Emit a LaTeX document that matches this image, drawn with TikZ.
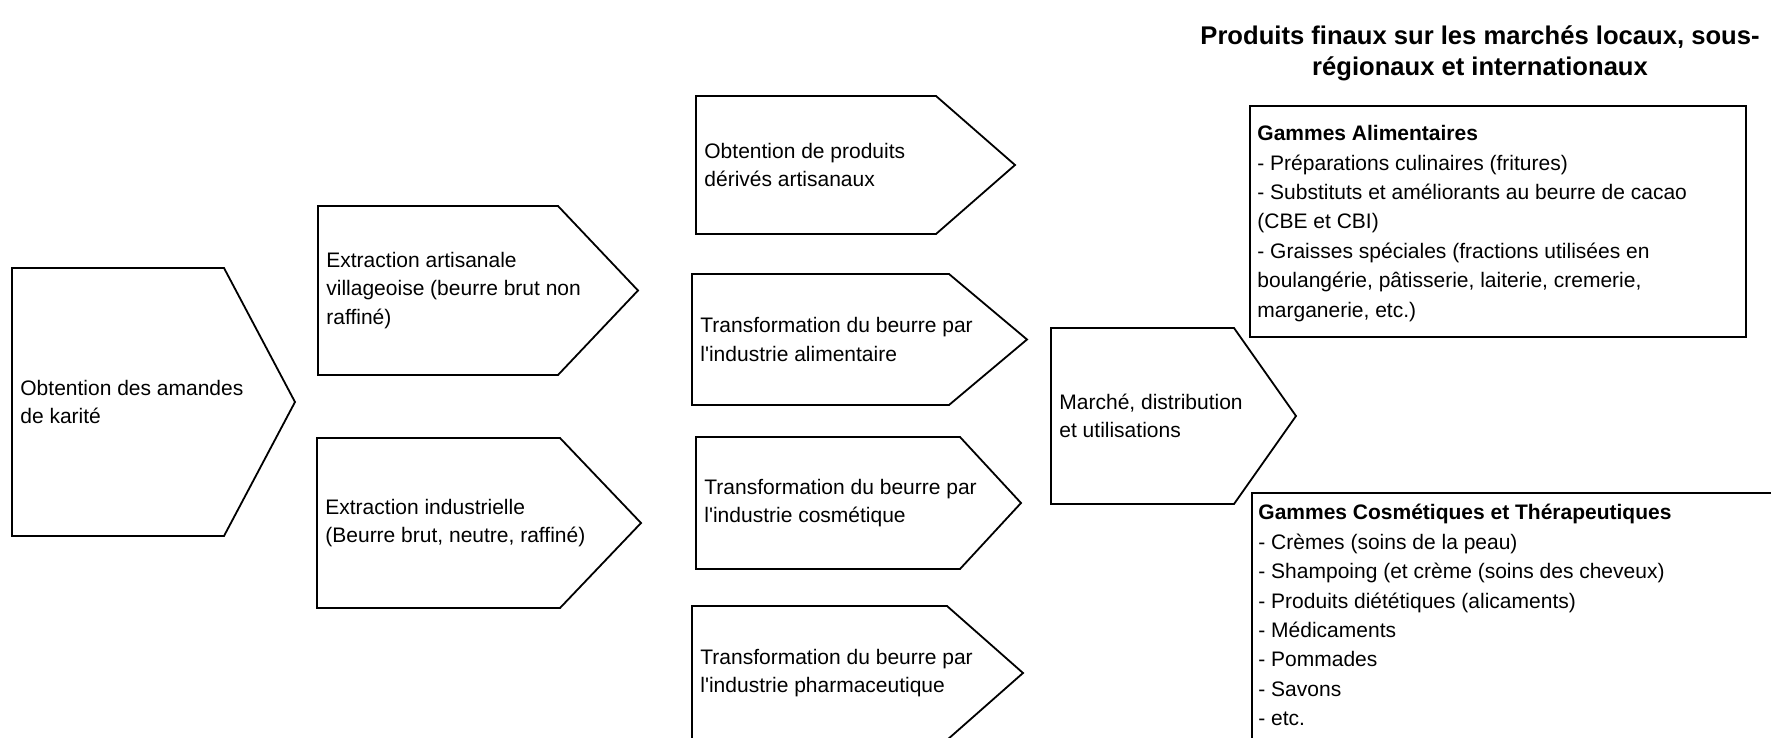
\documentclass[tikz,border=0pt]{standalone}
\usepackage{fontspec}
\setmainfont{Liberation Sans}
\newcommand\karitepent[7]{%
  \draw[outline] (#2,#3) -- (#5,#3) -- (#6,{(#3+#4)/2}) -- (#5,#4) -- (#2,#4) -- cycle;
  \node[penttext] (#1) at ({#2+8},{(#3+#4)/2}) {#7};}
\begin{document}
\begin{tikzpicture}[x=0.5pt,y=-0.5pt,
  outline/.style={draw=black, line width=0.9pt, line join=miter},
  penttext/.style={anchor=west, inner sep=0pt, align=left, font=\fontsize{10.5}{14.3}\selectfont},
  listtext/.style={anchor=north west, inner sep=0pt, align=left, font=\fontsize{10.5}{14.7}\selectfont},
  titletext/.style={anchor=north, inner sep=0pt, align=center, font=\bfseries\fontsize{12.8}{15.5}\selectfont}]
\useasboundingbox (0,0) rectangle (1771,738);
\clip (0,0) rectangle (1771,738);
\fill[white] (0,0) rectangle (1771,738);

\karitepent{amandes}{12}{268}{536}{224}{295}{Obtention des amandes\\de karité}
\karitepent{artisanale}{318}{206}{375}{558}{638}{Extraction artisanale\\villageoise (beurre brut non\\raffiné)}
\karitepent{industrielle}{317}{438}{608}{560}{641}{Extraction industrielle\\(Beurre brut, neutre, raffiné)}
\karitepent{derives}{696}{96}{234}{936}{1015}{Obtention de produits\\dérivés artisanaux}
\karitepent{alimentaire}{692}{274}{405}{949}{1027}{Transformation du beurre par\\l\textquotesingle industrie alimentaire}
\karitepent{cosmetique}{696}{437}{569}{960}{1021}{Transformation du beurre par\\l\textquotesingle industrie cosmétique}
\karitepent{pharma}{692}{606}{740}{947}{1023}{Transformation du beurre par\\l\textquotesingle industrie pharmaceutique}
\karitepent{marche}{1051}{328}{504}{1234}{1296}{Marché, distribution\\et utilisations}

\node[titletext] (titre) at (1480,25) {Produits finaux sur les marchés locaux, sous-\\régionaux et internationaux};

\draw[outline] (1250,106) rectangle (1746,337);
\node[listtext] (galim) at (1257,125) {\textbf{Gammes Alimentaires}\\
- Préparations culinaires (fritures)\\
- Substituts et améliorants au beurre de cacao\\
(CBE et CBI)\\
- Graisses spéciales (fractions utilisées en\\
boulangérie, pâtisserie, laiterie, cremerie,\\
marganerie, etc.)};

\draw[outline] (1252,493) rectangle (1790,760);
\node[listtext] (gcosm) at (1258,504) {\textbf{Gammes Cosmétiques et Thérapeutiques}\\
- Crèmes (soins de la peau)\\
- Shampoing (et crème (soins des cheveux)\\
- Produits diététiques (alicaments)\\
- Médicaments\\
- Pommades\\
- Savons\\
- etc.};
\end{tikzpicture}
\end{document}
